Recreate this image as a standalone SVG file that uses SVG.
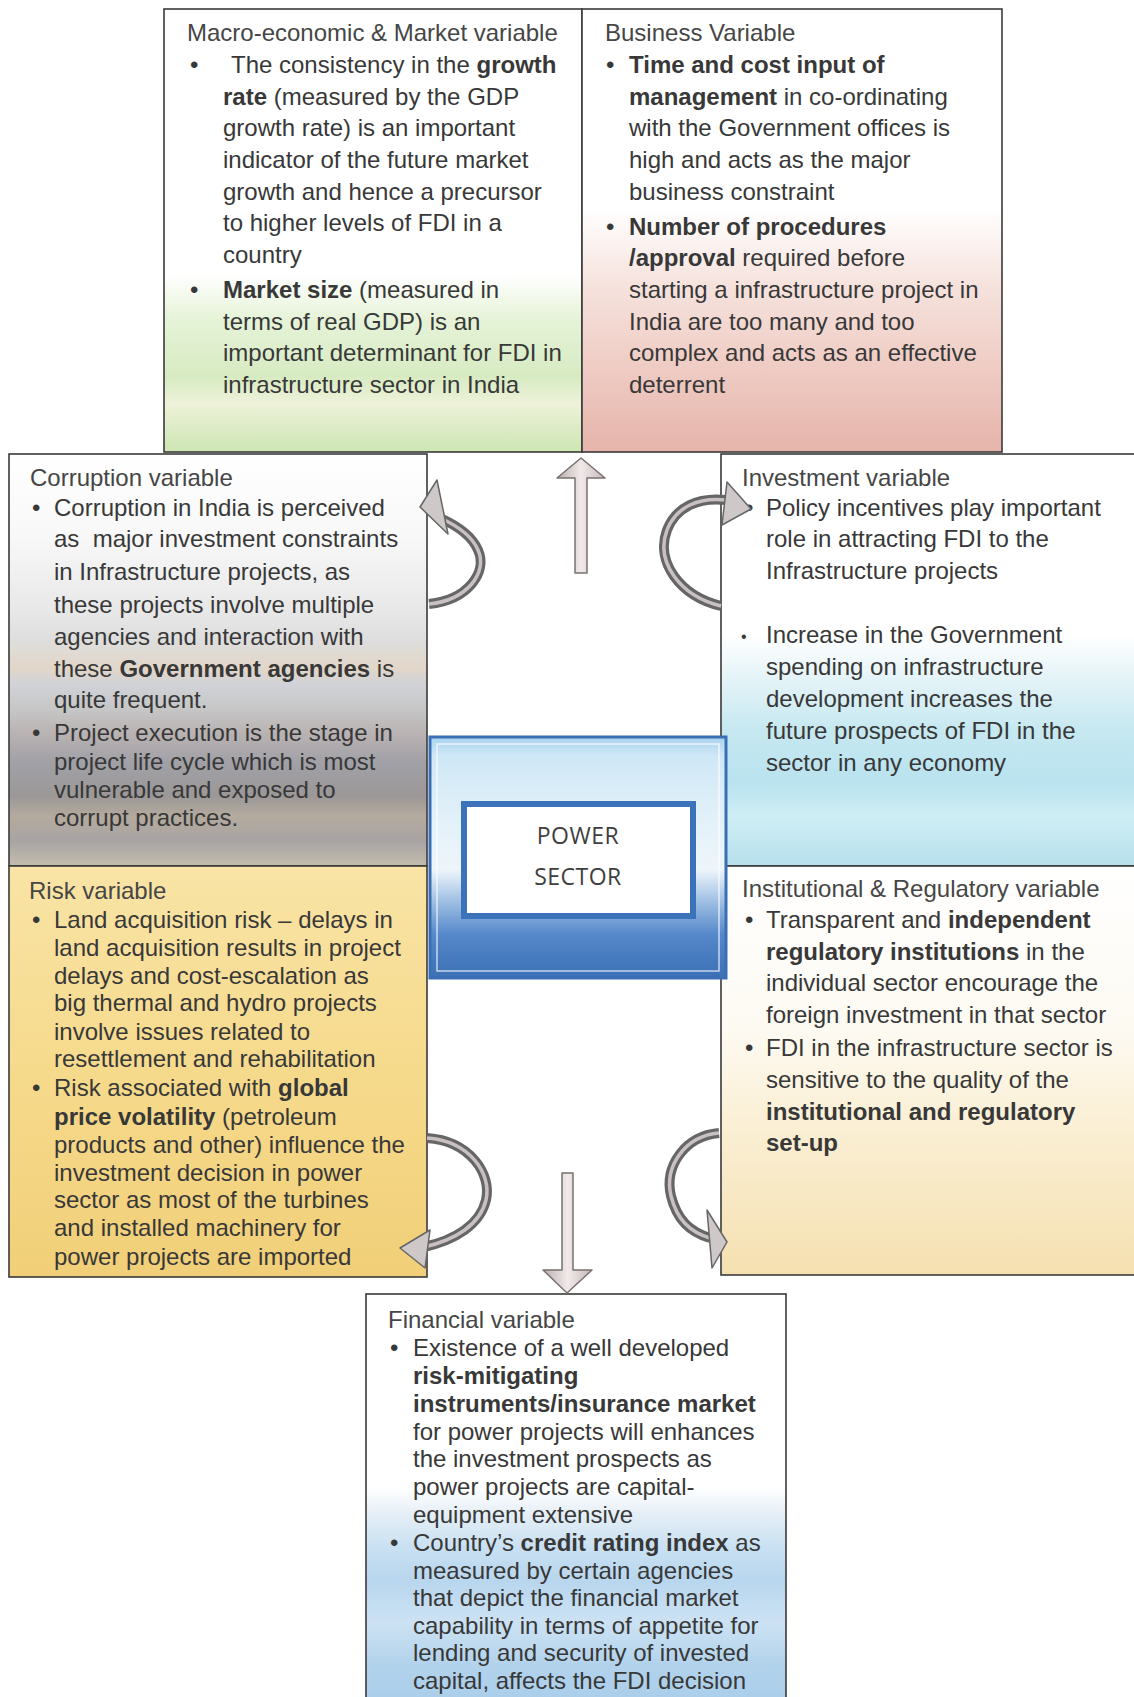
<svg xmlns="http://www.w3.org/2000/svg" width="1134" height="1697" viewBox="0 0 1134 1697">
<defs>
  <linearGradient id="gMacro" x1="0" y1="0" x2="0" y2="1">
    <stop offset="0" stop-color="#ffffff"/>
    <stop offset="0.6" stop-color="#ffffff"/>
    <stop offset="0.7" stop-color="#e6f3d8"/>
    <stop offset="0.83" stop-color="#d7ebc2"/>
    <stop offset="0.89" stop-color="#eef2d9"/>
    <stop offset="1" stop-color="#cde5b3"/>
  </linearGradient>
  <linearGradient id="gBusiness" x1="0" y1="0" x2="0" y2="1">
    <stop offset="0" stop-color="#ffffff"/>
    <stop offset="0.45" stop-color="#ffffff"/>
    <stop offset="0.62" stop-color="#f6e3de"/>
    <stop offset="0.8" stop-color="#efcdc5"/>
    <stop offset="1" stop-color="#e6b4ab"/>
  </linearGradient>
  <linearGradient id="gCorruption" x1="0" y1="0" x2="0" y2="1">
    <stop offset="0" stop-color="#ffffff"/>
    <stop offset="0.2" stop-color="#f8f8f8"/>
    <stop offset="0.38" stop-color="#e8e8e8"/>
    <stop offset="0.45" stop-color="#dedede"/>
    <stop offset="0.52" stop-color="#e2d6c8"/>
    <stop offset="0.56" stop-color="#d0d2d8"/>
    <stop offset="0.62" stop-color="#c6c6c6"/>
    <stop offset="0.68" stop-color="#b9b2b2"/>
    <stop offset="0.75" stop-color="#a0a0a6"/>
    <stop offset="0.83" stop-color="#9c9898"/>
    <stop offset="0.88" stop-color="#b4aa9e"/>
    <stop offset="0.94" stop-color="#a8a4a4"/>
    <stop offset="1" stop-color="#c4bcae"/>
  </linearGradient>
  <linearGradient id="gInvest" x1="0" y1="0" x2="0" y2="1">
    <stop offset="0" stop-color="#ffffff"/>
    <stop offset="0.44" stop-color="#ffffff"/>
    <stop offset="0.55" stop-color="#e3f3f7"/>
    <stop offset="0.67" stop-color="#c6e8f1"/>
    <stop offset="0.8" stop-color="#b9e3ef"/>
    <stop offset="0.88" stop-color="#cfeef5"/>
    <stop offset="1" stop-color="#b6e0ec"/>
  </linearGradient>
  <linearGradient id="gRisk" x1="0" y1="0" x2="0" y2="1">
    <stop offset="0" stop-color="#f9e4a6"/>
    <stop offset="0.5" stop-color="#f6da8c"/>
    <stop offset="1" stop-color="#f1cf78"/>
  </linearGradient>
  <linearGradient id="gInst" x1="0" y1="0" x2="0" y2="1">
    <stop offset="0" stop-color="#ffffff"/>
    <stop offset="0.4" stop-color="#fdfaf2"/>
    <stop offset="0.62" stop-color="#fbf0d6"/>
    <stop offset="1" stop-color="#f5e0b0"/>
  </linearGradient>
  <linearGradient id="gFin" x1="0" y1="0" x2="0" y2="1">
    <stop offset="0" stop-color="#ffffff"/>
    <stop offset="0.47" stop-color="#ffffff"/>
    <stop offset="0.54" stop-color="#e4eef6"/>
    <stop offset="0.62" stop-color="#c8e0f2"/>
    <stop offset="0.7" stop-color="#b8d6ee"/>
    <stop offset="0.8" stop-color="#cce2f3"/>
    <stop offset="0.9" stop-color="#b3d3ec"/>
    <stop offset="1" stop-color="#a9cdea"/>
  </linearGradient>
  <linearGradient id="gPower" x1="0" y1="0" x2="0" y2="1">
    <stop offset="0" stop-color="#a9d3ee"/>
    <stop offset="0.08" stop-color="#cfe8f6"/>
    <stop offset="0.35" stop-color="#e3f1f9"/>
    <stop offset="0.55" stop-color="#eef5fb"/>
    <stop offset="0.68" stop-color="#a0c0e4"/>
    <stop offset="0.82" stop-color="#5588ca"/>
    <stop offset="1" stop-color="#3b70b6"/>
  </linearGradient>
  <linearGradient id="gShaft" x1="0" y1="0" x2="1" y2="0">
    <stop offset="0" stop-color="#b8aeae"/>
    <stop offset="0.5" stop-color="#f2eaea"/>
    <stop offset="1" stop-color="#c4b8b8"/>
  </linearGradient>
  <style>
    .box{stroke:#3a3a3a;stroke-width:1.6}
    .t{font-family:"Liberation Sans",Arial,sans-serif;font-size:24px;fill:#383838}
    .h{fill:#464646}
    .b{font-weight:bold}
    .ps{font-family:"Open Sans","Noto Sans",sans-serif;font-size:23px;fill:#3e3e3e;text-anchor:middle;letter-spacing:0.5px}
    .arc{fill:none;stroke:#666666;stroke-width:10}
    .arcHi{fill:none;stroke:#c9c1c1;stroke-width:3.5}
    .head{fill:#cfc8c8;stroke:#666666;stroke-width:1.5;stroke-linejoin:round}
    .shaft{fill:url(#gShaft);stroke:#7a7070;stroke-width:1.5;stroke-linejoin:round}
  </style>
</defs>

<rect width="1134" height="1697" fill="#ffffff"/>

<!-- Macro-economic & Market variable -->
<g id="macro">
  <rect class="box" x="164" y="9" width="418" height="443" fill="url(#gMacro)"/>
  <text class="t h" x="187" y="41">Macro-economic &amp; Market variable</text>
  <text class="t" x="190" y="73">•</text>
  <text class="t" x="231" y="73">The consistency in the <tspan class="b">growth</tspan></text>
  <text class="t" x="223" y="105"><tspan class="b">rate</tspan> (measured by the GDP</text>
  <text class="t" x="223" y="136">growth rate) is an important</text>
  <text class="t" x="223" y="168">indicator of the future market</text>
  <text class="t" x="223" y="200">growth and hence a precursor</text>
  <text class="t" x="223" y="231">to higher levels of FDI in a</text>
  <text class="t" x="223" y="263">country</text>
  <text class="t" x="190" y="298">•</text>
  <text class="t" x="223" y="298"><tspan class="b">Market size</tspan> (measured in</text>
  <text class="t" x="223" y="330">terms of real GDP) is an</text>
  <text class="t" x="223" y="361">important determinant for FDI in</text>
  <text class="t" x="223" y="393">infrastructure sector in India</text>
</g>

<!-- Business Variable -->
<g id="business">
  <rect class="box" x="582" y="9" width="420" height="443" fill="url(#gBusiness)"/>
  <text class="t h" x="605" y="41">Business Variable</text>
  <text class="t" x="606" y="73">•</text>
  <text class="t b" x="629" y="73">Time and cost input of</text>
  <text class="t" x="629" y="105"><tspan class="b">management</tspan> in co-ordinating</text>
  <text class="t" x="629" y="136">with the Government offices is</text>
  <text class="t" x="629" y="168">high and acts as the major</text>
  <text class="t" x="629" y="200">business constraint</text>
  <text class="t" x="606" y="235">•</text>
  <text class="t b" x="629" y="235">Number of procedures</text>
  <text class="t" x="629" y="266"><tspan class="b">/approval</tspan> required before</text>
  <text class="t" x="629" y="298">starting a infrastructure project in</text>
  <text class="t" x="629" y="330">India are too many and too</text>
  <text class="t" x="629" y="361">complex and acts as an effective</text>
  <text class="t" x="629" y="393">deterrent</text>
</g>

<!-- Corruption variable -->
<g id="corruption">
  <rect class="box" x="9" y="454" width="418" height="412" fill="url(#gCorruption)"/>
  <text class="t h" x="30" y="486">Corruption variable</text>
  <text class="t" x="32" y="516">•</text>
  <text class="t" x="54" y="516">Corruption in India is perceived</text>
  <text class="t" x="54" y="547">as&#160; major investment constraints</text>
  <text class="t" x="54" y="580">in Infrastructure projects, as</text>
  <text class="t" x="54" y="613">these projects involve multiple</text>
  <text class="t" x="54" y="645">agencies and interaction with</text>
  <text class="t" x="54" y="677">these <tspan class="b">Government agencies</tspan> is</text>
  <text class="t" x="54" y="708">quite frequent.</text>
  <text class="t" x="32" y="741">•</text>
  <text class="t" x="54" y="741">Project execution is the stage in</text>
  <text class="t" x="54" y="770">project life cycle which is most</text>
  <text class="t" x="54" y="798">vulnerable and exposed to</text>
  <text class="t" x="54" y="826">corrupt practices.</text>
</g>

<!-- Investment variable -->
<g id="investment">
  <rect class="box" x="721" y="454" width="416" height="412" fill="url(#gInvest)"/>
  <text class="t h" x="742" y="486">Investment variable</text>
  <text class="t" x="745" y="516">•</text>
  <text class="t" x="766" y="516">Policy incentives play important</text>
  <text class="t" x="766" y="547">role in attracting FDI to the</text>
  <text class="t" x="766" y="579">Infrastructure projects</text>
  <text class="t" x="741" y="642" style="font-size:16px">•</text>
  <text class="t" x="766" y="643">Increase in the Government</text>
  <text class="t" x="766" y="675">spending on infrastructure</text>
  <text class="t" x="766" y="707">development increases the</text>
  <text class="t" x="766" y="739">future prospects of FDI in the</text>
  <text class="t" x="766" y="771">sector in any economy</text>
</g>

<!-- Risk variable -->
<g id="risk">
  <rect class="box" x="9" y="866" width="418" height="411" fill="url(#gRisk)"/>
  <text class="t h" x="29" y="899">Risk variable</text>
  <text class="t" x="32" y="928">•</text>
  <text class="t" x="54" y="928">Land acquisition risk – delays in</text>
  <text class="t" x="54" y="956">land acquisition results in project</text>
  <text class="t" x="54" y="984">delays and cost-escalation as</text>
  <text class="t" x="54" y="1011">big thermal and hydro projects</text>
  <text class="t" x="54" y="1040">involve issues related to</text>
  <text class="t" x="54" y="1067">resettlement and rehabilitation</text>
  <text class="t" x="32" y="1096">•</text>
  <text class="t" x="54" y="1096">Risk associated with <tspan class="b">global</tspan></text>
  <text class="t" x="54" y="1125"><tspan class="b">price volatility</tspan> (petroleum</text>
  <text class="t" x="54" y="1153">products and other) influence the</text>
  <text class="t" x="54" y="1181">investment decision in power</text>
  <text class="t" x="54" y="1208">sector as most of the turbines</text>
  <text class="t" x="54" y="1236">and installed machinery for</text>
  <text class="t" x="54" y="1265">power projects are imported</text>
</g>

<!-- Institutional & Regulatory variable -->
<g id="institutional">
  <rect class="box" x="721" y="866" width="416" height="409" fill="url(#gInst)"/>
  <text class="t h" x="742" y="897">Institutional &amp; Regulatory variable</text>
  <text class="t" x="745" y="928">•</text>
  <text class="t" x="766" y="928">Transparent and <tspan class="b">independent</tspan></text>
  <text class="t" x="766" y="960"><tspan class="b">regulatory institutions</tspan> in the</text>
  <text class="t" x="766" y="991">individual sector encourage the</text>
  <text class="t" x="766" y="1023">foreign investment in that sector</text>
  <text class="t" x="745" y="1056">•</text>
  <text class="t" x="766" y="1056">FDI in the infrastructure sector is</text>
  <text class="t" x="766" y="1088">sensitive to the quality of the</text>
  <text class="t b" x="766" y="1120">institutional and regulatory</text>
  <text class="t b" x="766" y="1151">set-up</text>
</g>

<!-- Financial variable -->
<g id="financial">
  <rect class="box" x="366" y="1294" width="420" height="410" fill="url(#gFin)"/>
  <text class="t h" x="388" y="1328">Financial variable</text>
  <text class="t" x="390" y="1356">•</text>
  <text class="t" x="413" y="1356">Existence of a well developed</text>
  <text class="t b" x="413" y="1384">risk-mitigating</text>
  <text class="t b" x="413" y="1412">instruments/insurance market</text>
  <text class="t" x="413" y="1440">for power projects will enhances</text>
  <text class="t" x="413" y="1467">the investment prospects as</text>
  <text class="t" x="413" y="1495">power projects are capital-</text>
  <text class="t" x="413" y="1523">equipment extensive</text>
  <text class="t" x="390" y="1551">•</text>
  <text class="t" x="413" y="1551">Country’s <tspan class="b">credit rating index</tspan> as</text>
  <text class="t" x="413" y="1579">measured by certain agencies</text>
  <text class="t" x="413" y="1606">that depict the financial market</text>
  <text class="t" x="413" y="1634">capability in terms of appetite for</text>
  <text class="t" x="413" y="1661">lending and security of invested</text>
  <text class="t" x="413" y="1689">capital, affects the FDI decision</text>
</g>

<!-- Central node -->
<g id="power-sector">
  <rect x="430" y="737" width="296" height="241" fill="url(#gPower)" stroke="#3a6fb5" stroke-width="3"/>
  <rect x="437" y="744" width="282" height="227" fill="none" stroke="#ffffff" stroke-opacity="0.7" stroke-width="1.5"/>
  <rect x="464" y="804" width="229" height="112" fill="#ffffff" stroke="#3c72b9" stroke-width="6"/>
  <text class="ps" x="578" y="844">POWER</text>
  <text class="ps" x="578" y="885">SECTOR</text>
</g>

<!-- Connectors -->
<g id="connectors">
  <path class="shaft" d="M575 573 V478 H557 L581 458 L605 478 H587 V573 Z"/>
  <path class="shaft" d="M562 1173 V1270 H543 L567 1293 L592 1270 H573 V1173 Z"/>

  <path class="arc" d="M429 604 C468 600 488 572 478 550 C472 536 458 526 440 518"/>
  <path class="arcHi" d="M429 604 C468 600 488 572 478 550 C472 536 458 526 440 518"/>
  <polygon class="head" points="437,480 420,507 448,534"/>

  <path class="arc" d="M721 606 C680 596 655 562 667 530 C676 507 698 497 726 500"/>
  <path class="arcHi" d="M721 606 C680 596 655 562 667 530 C676 507 698 497 726 500"/>
  <polygon class="head" points="727,482 751,509 722,525"/>

  <path class="arc" d="M427 1138 C470 1141 492 1174 486 1200 C480 1225 455 1240 424 1247"/>
  <path class="arcHi" d="M427 1138 C470 1141 492 1174 486 1200 C480 1225 455 1240 424 1247"/>
  <polygon class="head" points="430,1230 400,1248 425,1268"/>

  <path class="arc" d="M719 1133 C685 1136 664 1166 671 1196 C677 1220 690 1232 710 1238"/>
  <path class="arcHi" d="M719 1133 C685 1136 664 1166 671 1196 C677 1220 690 1232 710 1238"/>
  <polygon class="head" points="707,1210 727,1242 712,1268"/>
</g>
</svg>
